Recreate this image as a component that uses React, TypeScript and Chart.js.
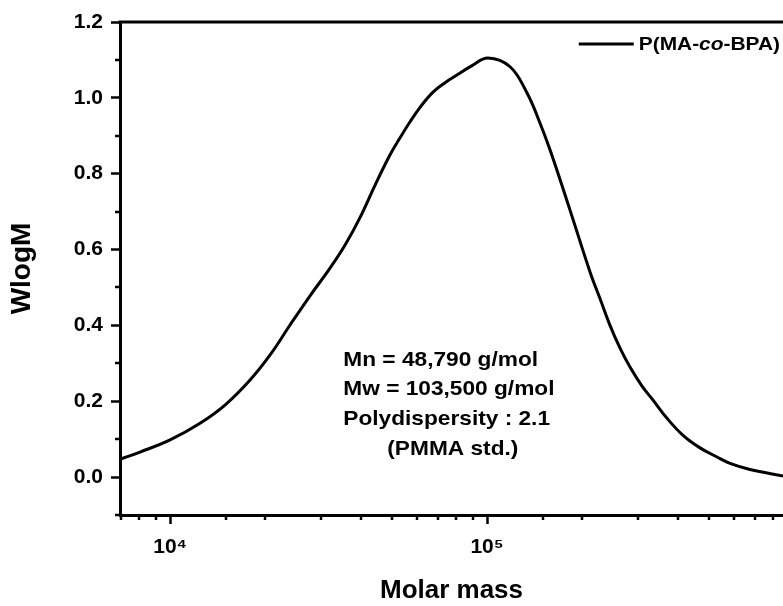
import React, { useEffect, useRef } from 'react';
import { Chart, registerables } from 'chart.js';

Chart.register(...registerables);

// Molar mass (g/mol) sampled along the GPC trace
const molarMass = [
  6950, 8040, 10000, 12430, 14900, 17880, 20680, 23900, 27640, 31960,
  35650, 39770, 44340, 49430, 53160, 57170, 61470, 67540, 73700, 81020,
  89690, 100700, 118200, 133700, 144800, 158000, 182700, 211300, 227300, 244300,
  262800, 282500, 308300, 334000, 369600, 415300, 469800, 531600, 584200, 675500,
  858500,
];
// WlogM values at those molar masses
const wlogM = [
  0.047, 0.066, 0.098, 0.142, 0.19, 0.256, 0.322, 0.401, 0.478, 0.551,
  0.612, 0.685, 0.77, 0.85, 0.895, 0.937, 0.975, 1.015, 1.04, 1.062,
  1.085, 1.105, 1.082, 1.013, 0.947, 0.863, 0.704, 0.541, 0.47, 0.4,
  0.34, 0.29, 0.24, 0.203, 0.155, 0.11, 0.077, 0.053, 0.036, 0.02,
  0.003,
];

const seriesLabel = 'P(MA-co-BPA)';
const legendParts = [
  { text: 'P(MA-', italic: false },
  { text: 'co', italic: true },
  { text: '-BPA)', italic: false },
];
const annotationLines = [
  'Mn = 48,790 g/mol',
  'Mw = 103,500 g/mol',
  'Polydispersity : 2.1',
  '(PMMA std.)',
];
const xTitle = 'Molar mass';
const yTitle = 'WlogM';
const xRange = [6950, 858500];
const yRange = [-0.1, 1.2];
const superDigits: Record<string, string> = {
  '0': '⁰', '1': '¹', '2': '²', '3': '³', '4': '⁴', '5': '⁵', '6': '⁶', '7': '⁷', '8': '⁸', '9': '⁹',
};

const FONT = "'Liberation Sans', Arial, Helvetica, sans-serif";

function isPow10(v: number) {
  const l = Math.log10(v);
  return Math.abs(l - Math.round(l)) < 1e-9;
}

const decorPlugin = {
  id: 'decor',
  afterDraw(chart: any) {
    const { ctx, chartArea, scales } = chart;
    const xs = scales.x;
    const ys = scales.y;
    ctx.save();
    ctx.strokeStyle = '#000';
    ctx.fillStyle = '#000';
    // top frame line
    ctx.lineWidth = 3;
    ctx.beginPath();
    ctx.moveTo(chartArea.left - 1.5, chartArea.top);
    ctx.lineTo(chartArea.right, chartArea.top);
    ctx.stroke();
    // minor ticks
    ctx.lineWidth = 2.5;
    ctx.beginPath();
    for (const t of xs.ticks) {
      if (isPow10(t.value) || t.value <= xs.min || t.value >= xs.max) continue;
      const px = Math.round(xs.getPixelForValue(t.value));
      ctx.moveTo(px, chartArea.bottom);
      ctx.lineTo(px, chartArea.bottom + 5);
    }
    for (const t of ys.ticks) {
      const k = Math.round(t.value * 10);
      if (k % 2 === 0) continue;
      const py = Math.round(ys.getPixelForValue(t.value));
      ctx.moveTo(chartArea.left, py);
      ctx.lineTo(chartArea.left - 5, py);
    }
    ctx.stroke();

    // legend
    const sx = 1.1;
    const legendRight = chartArea.right - 3;
    const legendY = chartArea.top + 23;
    const fontN = `bold 19px ${FONT}`;
    const fontI = `italic bold 19px ${FONT}`;
    let total = 0;
    const widths = legendParts.map((p) => {
      ctx.font = p.italic ? fontI : fontN;
      const w = ctx.measureText(p.text).width * sx;
      total += w;
      return w;
    });
    let tx = legendRight - total;
    ctx.lineWidth = 3;
    ctx.beginPath();
    ctx.moveTo(tx - 60, legendY - 1);
    ctx.lineTo(tx - 5, legendY - 1);
    ctx.stroke();
    ctx.textBaseline = 'middle';
    ctx.textAlign = 'left';
    legendParts.forEach((p, i) => {
      ctx.font = p.italic ? fontI : fontN;
      ctx.save();
      ctx.translate(tx, legendY);
      ctx.scale(sx, 1);
      ctx.fillText(p.text, 0, 0);
      ctx.restore();
      tx += widths[i];
    });

    // annotation
    const ax = xs.getPixelForValue(35200);
    const ay = ys.getPixelForValue(0.309);
    ctx.font = `bold 21px ${FONT}`;
    annotationLines.forEach((line, i) => {
      const indent = i === annotationLines.length - 1 ? 44 : 0;
      ctx.save();
      ctx.translate(ax + indent, ay + i * 29.8);
      ctx.scale(1.08, 1);
      ctx.fillText(line, 0, 0);
      ctx.restore();
    });
    ctx.restore();
  },
};

export default function App() {
  const ref = useRef<HTMLCanvasElement | null>(null);
  useEffect(() => {
    if (!ref.current) return;
    const chart = new Chart(ref.current, {
      type: 'line',
      data: {
        datasets: [
          {
            label: seriesLabel,
            data: molarMass.map((m, i) => ({ x: m, y: wlogM[i] })),
            borderColor: '#000',
            borderWidth: 3,
            pointRadius: 0,
            tension: 0.4,
            fill: false,
          },
        ],
      },
      options: {
        animation: false,
        responsive: false,
        layout: { padding: { top: 22, right: 0, left: 0, bottom: 0 } },
        plugins: { legend: { display: false }, tooltip: { enabled: false } },
        scales: {
          x: {
            type: 'logarithmic',
            min: xRange[0],
            max: xRange[1],
            afterFit: (s: any) => { s.height = 91; s.paddingRight = 0; s.paddingLeft = 0; },
            border: { display: true, color: '#000', width: 3 },
            grid: {
              drawOnChartArea: false,
              drawTicks: true,
              tickLength: 9,
              tickWidth: 2.5,
              tickColor: (c: any) => (c.tick && isPow10(c.tick.value) ? '#000' : 'rgba(0,0,0,0)'),
            },
            ticks: {
              autoSkip: false,
              maxRotation: 0,
              padding: 0,
              color: '#000',
              font: { family: FONT, size: 21, weight: 'bold', lineHeight: 2.2 },
              callback: (v: any) => {
                const n = Number(v);
                if (!isPow10(n)) return '';
                const e = String(Math.round(Math.log10(n)));
                return '10' + e.split('').map((d) => superDigits[d]).join('');
              },
            },
            title: {
              display: true,
              text: xTitle,
              color: '#000',
              font: { family: FONT, size: 26, weight: 'bold' },
              padding: { top: 0, bottom: 0 },
            },
          },
          y: {
            type: 'linear',
            min: yRange[0],
            max: yRange[1],
            afterFit: (s: any) => { s.width = 120; },
            border: { display: true, color: '#000', width: 3 },
            grid: {
              drawOnChartArea: false,
              drawTicks: true,
              tickLength: 9,
              tickWidth: 2.5,
              tickColor: (c: any) => {
                const k = c.tick ? Math.round(c.tick.value * 10) : 1;
                return k % 2 === 0 ? '#000' : 'rgba(0,0,0,0)';
              },
            },
            ticks: {
              stepSize: 0.1,
              autoSkip: false,
              padding: 8,
              color: '#000',
              font: { family: FONT, size: 21, weight: 'bold' },
              callback: (v: any) => {
                const n = Number(v);
                const k = Math.round(n * 10);
                return k % 2 === 0 && k >= 0 ? (k / 10).toFixed(1) : '';
              },
            },
            title: {
              display: true,
              text: yTitle,
              color: '#000',
              font: { family: FONT, size: 28, weight: 'bold' },
              padding: { top: 5, bottom: 0 },
            },
          },
        },
      },
      plugins: [decorPlugin],
    } as any);
    return () => chart.destroy();
  }, []);
  return (
    <div style={{ position: 'absolute', left: 0, top: 0, width: 783, height: 606, background: '#fff' }}>
      <canvas ref={ref} width={783} height={606} />
    </div>
  );
}
